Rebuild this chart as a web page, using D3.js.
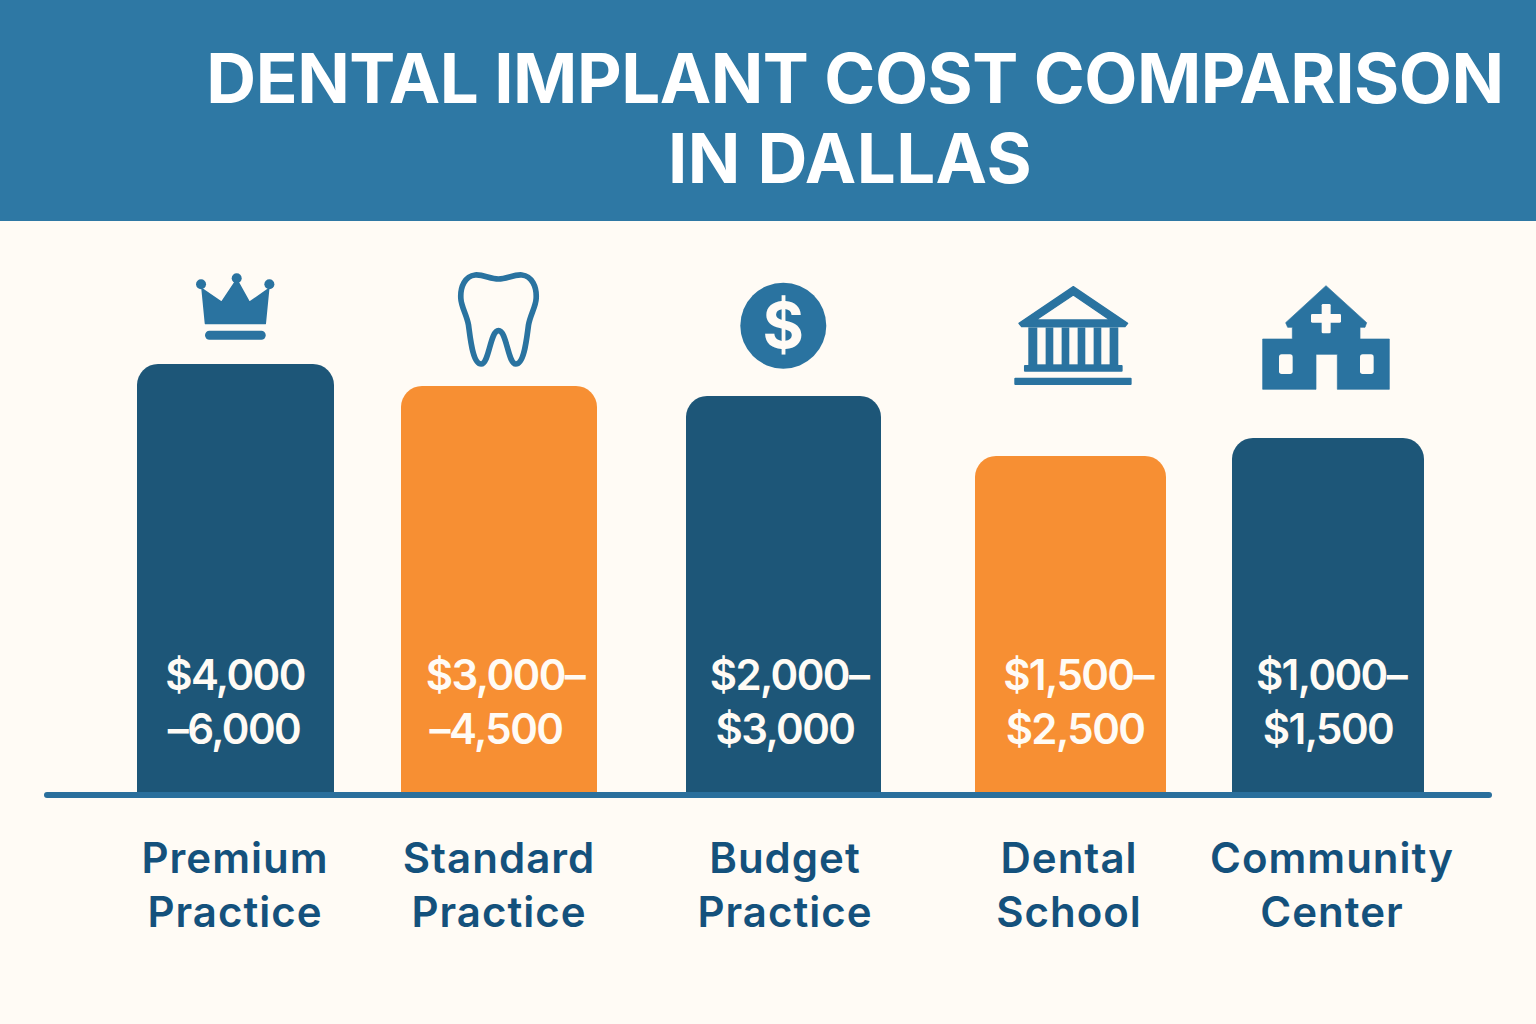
<!DOCTYPE html>
<html>
<head>
<meta charset="utf-8">
<title>Dental Implant Cost Comparison in Dallas</title>
<script src="https://cdn.jsdelivr.net/npm/d3@7/dist/d3.min.js"></script>
<style>
html, body { margin: 0; padding: 0; background: #fffbf5; }
svg { display: block; }
text { font-family: Inter, "Noto Sans", sans-serif; }
</style>
</head>
<body>
<div id="chart"></div>
<script>
var titleLines = ['DENTAL IMPLANT COST COMPARISON', 'IN DALLAS'];
var categories = ['Premium', 'Standard', 'Budget', 'Dental', 'Community'];
var categoryLines = [['Premium', 'Practice'], ['Standard', 'Practice'], ['Budget', 'Practice'], ['Dental', 'School'], ['Community', 'Center']];
var barHeightValues = [4310, 4090, 3990, 3390, 3570]; // bar heights don't follow the costs
var costLines = [['$4,000', '–6,000'], ['$3,000–', '–4,500'], ['$2,000–', '$3,000'], ['$1,500–', '$2,500'], ['$1,000–', '$1,500']];
var barKinds = ['dark', 'orange', 'dark', 'orange', 'dark'];
var iconNames = ['crown', 'tooth', 'dollar', 'bank', 'hospital'];

var width = 1536, height = 1024;
var baseY = 795;
var iconBlue = '#2a73a0';
var colors = d3.scaleOrdinal().domain(['dark', 'orange']).range(['#1d5678', '#f78f33']);

var svg = d3.select('#chart').append('svg').attr('width', width).attr('height', height);

// bars are not evenly spaced in the picture so the x scales are ordinal
var xLeft = d3.scaleOrdinal().domain(categories).range([137, 401, 686, 975, 1232]);
var xRight = d3.scaleOrdinal().domain(categories).range([334, 597, 881, 1166, 1424]);
var costX = d3.scaleOrdinal().domain(categories).range([235, 505, 789, 1078, 1331]);
var costX2 = d3.scaleOrdinal().domain(categories).range([234, 496, 785, 1075, 1328]);
var labelX = d3.scaleOrdinal().domain(categories).range([235, 499, 785, 1069, 1332]);
var iconX = d3.scaleOrdinal().domain(categories).range([236.7, 498.5, 783.3, 1073.3, 1326]);
var y = d3.scaleLinear().domain([0, 6000]).range([baseY, baseY - 600]);

svg.append('rect').attr('width', width).attr('height', height).attr('fill', '#fffbf5');
svg.append('rect').attr('width', width).attr('height', 221).attr('fill', '#2e78a4');

svg.selectAll('.title').data(titleLines).enter().append('text')
    .attr('class', 'title')
    .attr('x', function (d, i) { return i == 0 ? 855 : 850; })
    .attr('y', function (d, i) { return 103 + i * 80; })
    .attr('text-anchor', 'middle')
    .attr('font-size', 69)
    .attr('font-weight', 700)
    .attr('letter-spacing', function (d, i) { return i == 0 ? -0.47 : 0.4; })
    .attr('fill', '#fff')
    .text(function (d) { return d; });

var barPath = function (d) {
    var l = xLeft(d), r = xRight(d), t = y(barHeightValues[categories.indexOf(d)]), b = y(0), c = 21;
    return 'M' + l + ',' + b + 'V' + (t + c) + 'A' + c + ',' + c + ' 0 0 1 ' + (l + c) + ',' + t +
        'H' + (r - c) + 'A' + c + ',' + c + ' 0 0 1 ' + r + ',' + (t + c) + 'V' + b + 'Z';
};

svg.selectAll('.bar').data(categories).enter().append('path')
    .attr('class', 'bar')
    .attr('d', barPath)
    .attr('fill', function (d, i) { return colors(barKinds[i]); });

svg.append('line')
    .attr('x1', 47).attr('x2', 1489)
    .attr('y1', baseY).attr('y2', baseY)
    .attr('stroke', '#2a6f9c').attr('stroke-width', 6).attr('stroke-linecap', 'round');

categories.forEach(function (c, i) {
    costLines[i].forEach(function (line, j) {
        svg.append('text')
            .attr('x', j == 0 ? costX(c) : costX2(c)).attr('y', 690 + j * 54)
            .attr('text-anchor', 'middle')
            .attr('font-size', 42).attr('font-weight', 600)
            .attr('letter-spacing', -1.6)
            .attr('fill', '#fffbf5')
            .text(line);
    });
    categoryLines[i].forEach(function (line, j) {
        svg.append('text')
            .attr('x', labelX(c)).attr('y', 873 + j * 54)
            .attr('text-anchor', 'middle')
            .attr('font-size', 42).attr('font-weight', 600)
            .attr('letter-spacing', 1)
            .attr('fill', '#14517c')
            .text(line);
    });
});

// icons, coordinates are in 3x units around their own centre
var icons = {
    crown: function (g) {
        g.append('path').attr('fill', iconBlue).attr('stroke', iconBlue).attr('stroke-width', 6).attr('stroke-linejoin', 'round')
            .attr('d', 'M-103,88 L-45,128 L0,60 L38,128 L95,88 L85,190 L-93,190 Z');
        [[-107, 73], [0, 55], [98, 73]].forEach(function (p) {
            g.append('circle').attr('cx', p[0]).attr('cy', p[1]).attr('r', 15).attr('fill', iconBlue);
        });
        g.append('rect').attr('x', -95).attr('y', 212).attr('width', 182).attr('height', 27).attr('rx', 13).attr('fill', iconBlue);
    },
    tooth: function (g) {
        g.append('path').attr('fill', 'none').attr('stroke', iconBlue).attr('stroke-width', 17)
            .attr('d', 'M0,57 C25,57 45,43 70,45 C100,48 115,80 113,115 C112,140 95,165 90,195 C85,230 78,312 52,312 C28,312 25,212 0,212 C-25,212 -28,312 -52,312 C-78,312 -85,230 -90,195 C-95,165 -112,140 -113,115 C-115,80 -100,48 -70,45 C-45,43 -25,57 0,57 Z');
    },
    dollar: function (g) {
        g.append('circle').attr('cx', 0).attr('cy', 167).attr('r', 129).attr('fill', iconBlue);
        g.append('text').attr('x', 0).attr('y', 167).attr('dy', '0.36em').attr('text-anchor', 'middle')
            .attr('font-size', 190).attr('font-weight', 700).attr('fill', '#fffbf5').text('$');
    },
    bank: function (g) {
        g.append('path').attr('fill', iconBlue).attr('fill-rule', 'evenodd').attr('stroke', iconBlue).attr('stroke-width', 4).attr('stroke-linejoin', 'round')
            .attr('d', 'M0,50 L163,160 L155,170 L-155,170 L-163,160 Z M0,75 L-112,150 L110,150 Z');
        g.append('rect').attr('x', -135).attr('y', 172).attr('width', 270).attr('height', 113).attr('fill', iconBlue);
        d3.range(5).forEach(function (k) {
            g.append('rect').attr('x', -108 + k * 48).attr('y', 173).attr('width', 25).attr('height', 110).attr('fill', '#fffbf5');
        });
        g.append('rect').attr('x', -148).attr('y', 285).attr('width', 296).attr('height', 20).attr('rx', 3).attr('fill', iconBlue);
        g.append('rect').attr('x', -177).attr('y', 323).attr('width', 352).attr('height', 22).attr('rx', 3).attr('fill', iconBlue);
    },
    hospital: function (g) {
        g.append('path').attr('fill', iconBlue).attr('stroke', iconBlue).attr('stroke-width', 2).attr('stroke-linejoin', 'round')
            .attr('d', 'M0,47 L122,158 L117,172 L102,172 L102,207 L190,207 L190,358 L34,358 L34,253 L-30,253 L-30,358 L-190,358 L-190,207 L-101,207 L-101,172 L-115,172 L-121,158 Z');
        g.append('rect').attr('x', -45).attr('y', 132).attr('width', 90).attr('height', 26).attr('rx', 4).attr('fill', '#fffbf5');
        g.append('rect').attr('x', -13).attr('y', 102).attr('width', 27).attr('height', 88).attr('rx', 4).attr('fill', '#fffbf5');
        [-141, 102].forEach(function (wx) {
            g.append('rect').attr('x', wx).attr('y', 253).attr('width', 41).attr('height', 59).attr('rx', 8).attr('fill', '#fffbf5');
        });
    }
};

var iconTop = [260, 260, 270, 270, 270];
categories.forEach(function (c, i) {
    var g = svg.append('g')
        .attr('class', 'icon')
        .attr('transform', 'translate(' + iconX(c) + ',' + iconTop[i] + ') scale(' + (1 / 3) + ')');
    icons[iconNames[i]](g);
});
</script>
</body>
</html>
